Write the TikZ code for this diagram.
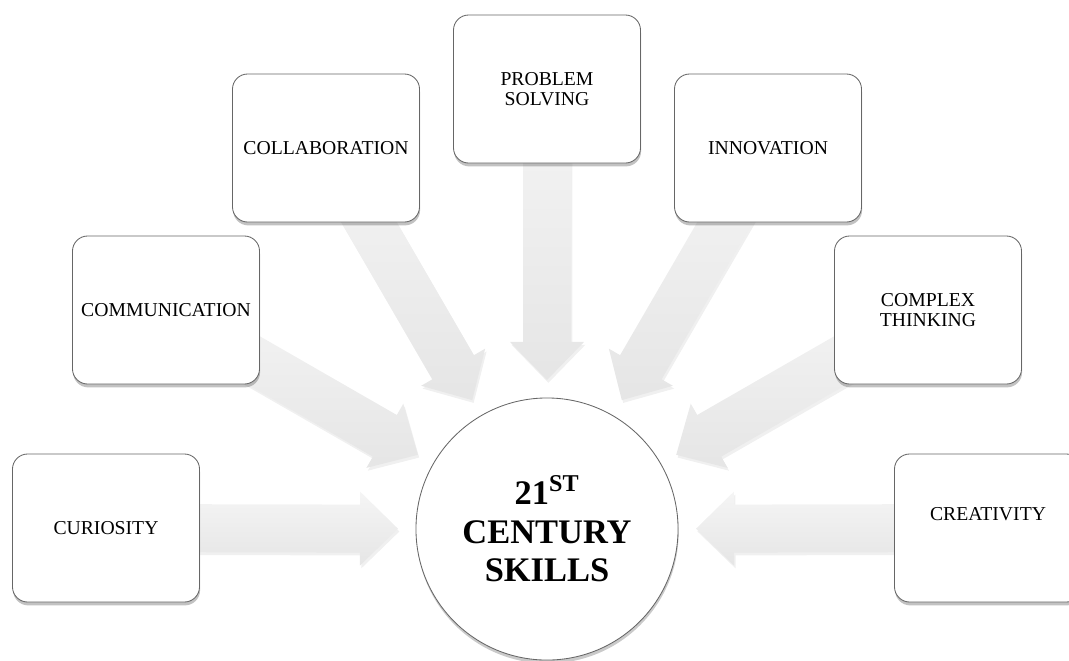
\documentclass[tikz,border=0pt]{standalone}
\usepackage{fontspec}
\setmainfont{Liberation Serif}
\usetikzlibrary{calc,shadows,backgrounds}

\newcommand\ShaftW{0.6cm}
\newcommand\HeadW{0.925cm}
\newcommand\HeadL{0.95cm}
\newcommand\TipGap{3.725cm}

\tikzset{
  skill/.style={
    shape = rectangle,
    rounded corners = 0.38cm,
    minimum width = 4.675cm,
    minimum height = 3.7cm,
    draw = black!60,
    line width = 0.6pt,
    fill = white,
    align = center,
    font = \fontsize{14}{14.4}\selectfont,
    drop shadow = {shadow xshift=0.4pt, shadow yshift=-2.4pt, opacity=0.4, fill=black!60}
  },
  hub/.style={
    shape = circle,
    minimum size = 6.55cm,
    inner sep = 0pt,
    draw = black!60,
    line width = 0.6pt,
    fill = white,
    align = center,
    font = \bfseries\fontsize{24.5}{27.4}\selectfont,
    drop shadow = {shadow xshift=0.4pt, shadow yshift=-2.4pt, opacity=0.35, fill=black!60}
  },
  flow/.style={
    top color = black!4,
    bottom color = black!10,
    draw = none,
    drop shadow = {shadow xshift=1pt, shadow yshift=-2pt, opacity=0.12}
  }
}

% block arrow from a skill box to the hub, tip stops short of the circle
\newcommand\blockarrow[2]{%
  \coordinate (#1-tip) at ($(#2.center)!\TipGap!(#1.center)$);
  \coordinate (#1-neck) at ($(#1-tip)!\HeadL!(#1.center)$);
  \path[flow] ($(#1.center)!\ShaftW!-90:(#1-tip)$)
    -- ($(#1-neck)!\ShaftW!-90:(#1-tip)$)
    -- ($(#1-neck)!\HeadW!-90:(#1-tip)$)
    -- (#1-tip)
    -- ($(#1-neck)!\HeadW!90:(#1-tip)$)
    -- ($(#1-neck)!\ShaftW!90:(#1-tip)$)
    -- ($(#1.center)!\ShaftW!90:(#1-tip)$) -- cycle;
}

\begin{document}
\begin{tikzpicture}[x=0.025cm, y=-0.025cm]
  \useasboundingbox (0,0) rectangle (1069,660);

  \node[hub] (hub) at (547,529) {21\textsuperscript{ST}\\CENTURY\\SKILLS};

  \node[skill] (cur) at (106,528) {CURIOSITY};
  \node[skill] (com) at (166,310) {COMMUNICATION};
  \node[skill] (col) at (326,148) {COLLABORATION};
  \node[skill] (pro) at (547,89)  {PROBLEM\\SOLVING};
  \node[skill] (inn) at (768,148) {INNOVATION};
  \node[skill] (cpx) at (928,310) {COMPLEX\\THINKING};
  \node[skill] (cre) at (988,528) {CREATIVITY\\[6pt]\mbox{}};

  \begin{scope}[on background layer]
    \foreach \s in {cur,com,col,pro,inn,cpx,cre}
      \blockarrow{\s}{hub};
  \end{scope}
\end{tikzpicture}
\end{document}
